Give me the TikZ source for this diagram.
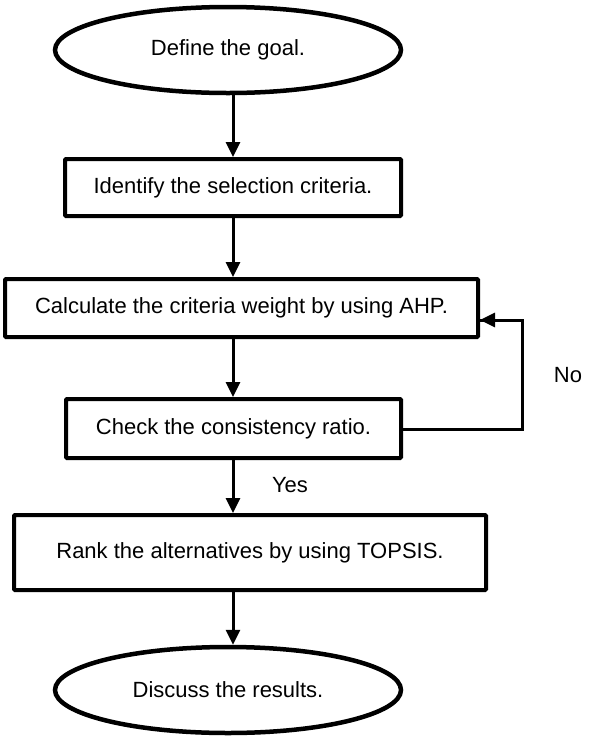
\documentclass[tikz,border=0pt]{standalone}
\usepackage{fontspec}
\setmainfont{Liberation Sans}
\usetikzlibrary{shapes.geometric,arrows.meta}
\begin{document}
\begin{tikzpicture}[x=1pt,y=-1pt,
  every node/.style={font=\fontsize{22}{26}\selectfont, inner sep=0pt},
  stepbox/.style={draw, line width=4pt, rectangle, rounded corners=1pt},
  term/.style={draw, line width=4.5pt, ellipse, minimum width=346pt, minimum height=86pt},
  arr/.style={line width=3pt, -{Triangle[length=15pt,width=14pt]}},
  lbl/.style={font=\fontsize{22}{26}\selectfont}]
\useasboundingbox (0,0) rectangle (600,740);
\node[term] (e1) at (228,50) {Define the goal.};
\node[stepbox, minimum width=336pt, minimum height=57pt] (b2) at (233,187.5) {Identify the selection criteria.};
\node[stepbox, minimum width=473pt, minimum height=58pt] (b3) at (241.5,308) {Calculate the criteria weight by using AHP.};
\node[stepbox, minimum width=335pt, minimum height=59pt] (b4) at (233.5,428.5) {Check the consistency ratio.};
\node[stepbox, minimum width=472pt, minimum height=75pt] (b5) at (250,552.5) {Rank the alternatives by using TOPSIS.};
\node[term] (e2) at (228,690) {Discuss the results.};
\node[lbl] (no) at (568,375) {No};
\node[lbl] (yes) at (290,485) {Yes};
\coordinate (fb1) at (522,429);
\coordinate (fb2) at (522,320);
\coordinate (fb3) at (480,320);
\draw[arr] (e1.south -| b2.north) -- (b2.north);
\draw[arr] (b2.south) -- (b3.north -| b2.south);
\draw[arr] (b3.south -| b2.south) -- (b4.north -| b2.south);
\draw[arr] (b4.south -| b2.south) -- (b5.north -| b2.south);
\draw[arr] (b5.south -| b2.south) -- (e2.north -| b2.south);
\draw[line width=3pt] (b4.east |- fb1) -- (fb1) -- (fb2) -- (fb3);
\draw[arr] (fb2) -- (b3.east |- fb2);
\end{tikzpicture}
\end{document}
